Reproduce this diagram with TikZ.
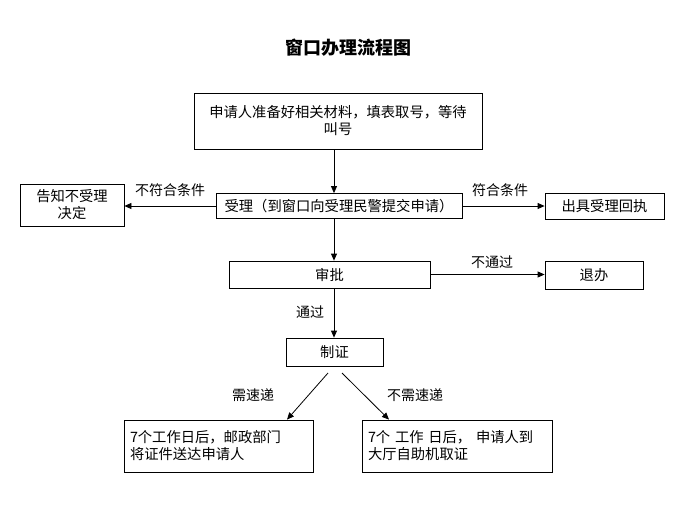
\documentclass[tikz,border=0pt]{standalone}
\usepackage{fontspec}
\setmainfont{Noto Sans CJK SC}
\newfontfamily\cjk{Noto Sans CJK SC}
\usetikzlibrary{arrows.meta}
\begin{document}
\begin{tikzpicture}[x=1pt,y=-1pt,
  box/.style={draw,line width=0.8pt,inner sep=0pt,align=center,font=\fontsize{14.3}{17}\selectfont},
  lbl/.style={inner sep=0pt,font=\fontsize{14}{17}\selectfont},
  arr/.style={line width=0.8pt,-{Triangle[length=7pt,width=6pt]}},
  line width=0.8pt]
\useasboundingbox (0,0) rectangle (691,520);
\node[font=\fontsize{18}{20}\selectfont\bfseries] (title) at (348,48) {窗口办理流程图};
\node[box,minimum width=288pt,minimum height=56pt] (apply) at (338,121) {申请人准备好相关材料，填表取号，等待\\叫号};
\node[box,minimum width=246pt,minimum height=25pt] (accept) at (339,206) {受理（到窗口向受理民警提交申请）};
\node[box,minimum width=104pt,minimum height=42pt] (reject) at (72,205) {告知不受理\\决定};
\node[box,minimum width=119pt,minimum height=26pt] (receipt) at (604.5,206) {出具受理回执};
\node[box,minimum width=201pt,minimum height=27pt] (approve) at (329.5,274.5) {审批};
\node[box,minimum width=98pt,minimum height=28pt] (back) at (594,275) {退办};
\node[box,minimum width=97pt,minimum height=28pt] (make) at (334.5,352) {制证};
\node[box,minimum width=189pt,minimum height=52pt,align=left,text width=177pt] (post) at (218.5,446) {7个工作日后，邮政部门\\将证件送达申请人};
\node[box,minimum width=190pt,minimum height=52pt,align=left,text width=178pt] (self) at (457,446) {7个 工作 日后， 申请人到\\大厅自助机取证};
\coordinate (mk1) at (328,373);
\coordinate (mk2) at (342,373);
\draw[arr] (apply.south -| 334,0) -- (accept.north -| 334,0);
\draw[arr] (accept.west) -- (reject.east |- accept.west);
\draw[arr] (accept.east) -- (receipt.west);
\draw[arr] (accept.south -| 334,0) -- (approve.north -| 334,0);
\draw[arr] (approve.east) -- (back.west |- approve.east);
\draw[arr] (approve.south -| 334,0) -- (make.north -| 334,0);
\draw[arr] (mk1) -- (post.north -| 287,0);
\draw[arr] (mk2) -- (self.north -| 389,0);
\node[lbl] (l1) at (170,190) {不符合条件};
\node[lbl] (l2) at (500,190) {符合条件};
\node[lbl] (l3) at (492,262) {不通过};
\node[lbl] (l4) at (310,312) {通过};
\node[lbl] (l5) at (253,395) {需速递};
\node[lbl] (l6) at (415,395) {不需速递};
\end{tikzpicture}
\end{document}
